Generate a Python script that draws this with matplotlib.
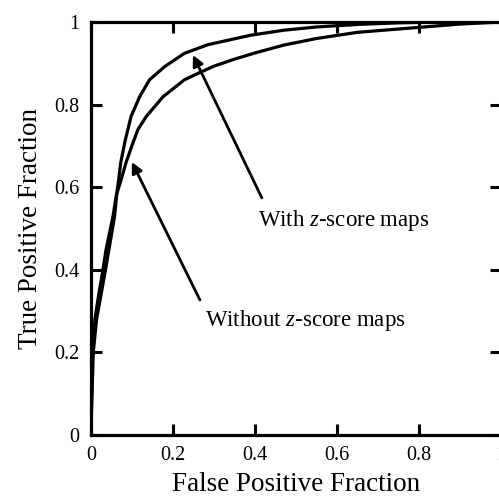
import matplotlib
matplotlib.use("Agg")
import matplotlib.pyplot as plt

plt.rcParams['font.family'] = ['Liberation Serif', 'DejaVu Serif']
plt.rcParams['mathtext.fontset'] = 'custom'
plt.rcParams['mathtext.rm'] = 'Liberation Serif'
plt.rcParams['mathtext.it'] = 'Liberation Serif:italic'

# ROC curve values
fpf_with = [0, 0.003, 0.006, 0.014, 0.025, 0.034, 0.044, 0.058, 0.064, 0.068,
            0.073, 0.084, 0.098, 0.119, 0.143, 0.18, 0.228, 0.285, 0.39, 0.47,
            0.55, 0.65, 0.75, 0.85, 1.0]
tpf_with = [0, 0.1, 0.2, 0.28, 0.34, 0.39, 0.448, 0.53, 0.59, 0.62,
            0.66, 0.714, 0.771, 0.819, 0.86, 0.892, 0.924, 0.945, 0.968, 0.98,
            0.988, 0.994, 0.998, 1.0, 1.0]

fpf_without = [0, 0.002, 0.004, 0.01, 0.02, 0.028, 0.037, 0.054, 0.062, 0.073,
               0.086, 0.10, 0.115, 0.135, 0.176, 0.228, 0.26, 0.3, 0.35, 0.4,
               0.47, 0.55, 0.65, 0.8, 0.9, 1.0]
tpf_without = [0, 0.1, 0.2, 0.28, 0.345, 0.39, 0.448, 0.529, 0.58, 0.615,
               0.66, 0.70, 0.74, 0.771, 0.819, 0.86, 0.875, 0.893, 0.91, 0.925,
               0.944, 0.96, 0.975, 0.987, 0.995, 1.0]

ticks = [0, 0.2, 0.4, 0.6, 0.8, 1]
tick_labels = ['0', '0.2', '0.4', '0.6', '0.8', '1']

fig = plt.figure(figsize=(4.99, 5.0), dpi=100)
ax = fig.add_axes([0.182, 0.13, 0.822, 0.826])

ax.plot(fpf_with, tpf_with, color='black', lw=2.3, solid_joinstyle='round')
ax.plot(fpf_without, tpf_without, color='black', lw=2.3, solid_joinstyle='round')

ax.set_xlim(0, 1)
ax.set_ylim(0, 1)
ax.set_xticks(ticks)
ax.set_yticks(ticks)
ax.set_xticklabels(tick_labels)
ax.set_yticklabels(tick_labels)
ax.tick_params(direction='in', length=8, width=2.2, labelsize=14.5, pad=8,
               top=True, right=True)
for s in ax.spines.values():
    s.set_linewidth(2.3)

ax.set_xlabel('False Positive Fraction', fontsize=19.5, labelpad=5)
ax.set_ylabel('True Positive Fraction', fontsize=19.5, labelpad=8)

arrow = dict(arrowstyle='-|>', color='black', lw=2, mutation_scale=16, shrinkA=0, shrinkB=0)
ax.annotate('', xy=(0.249, 0.92), xytext=(0.417, 0.574), arrowprops=arrow)
ax.annotate('', xy=(0.10, 0.661), xytext=(0.266, 0.327), arrowprops=arrow)
ax.text(0.407, 0.52, 'With $z$-score maps', fontsize=16.5, va='center', ha='left')
ax.text(0.278, 0.278, 'Without $z$-score maps', fontsize=16.5, va='center', ha='left')

fig.savefig('out.png', dpi=100)
